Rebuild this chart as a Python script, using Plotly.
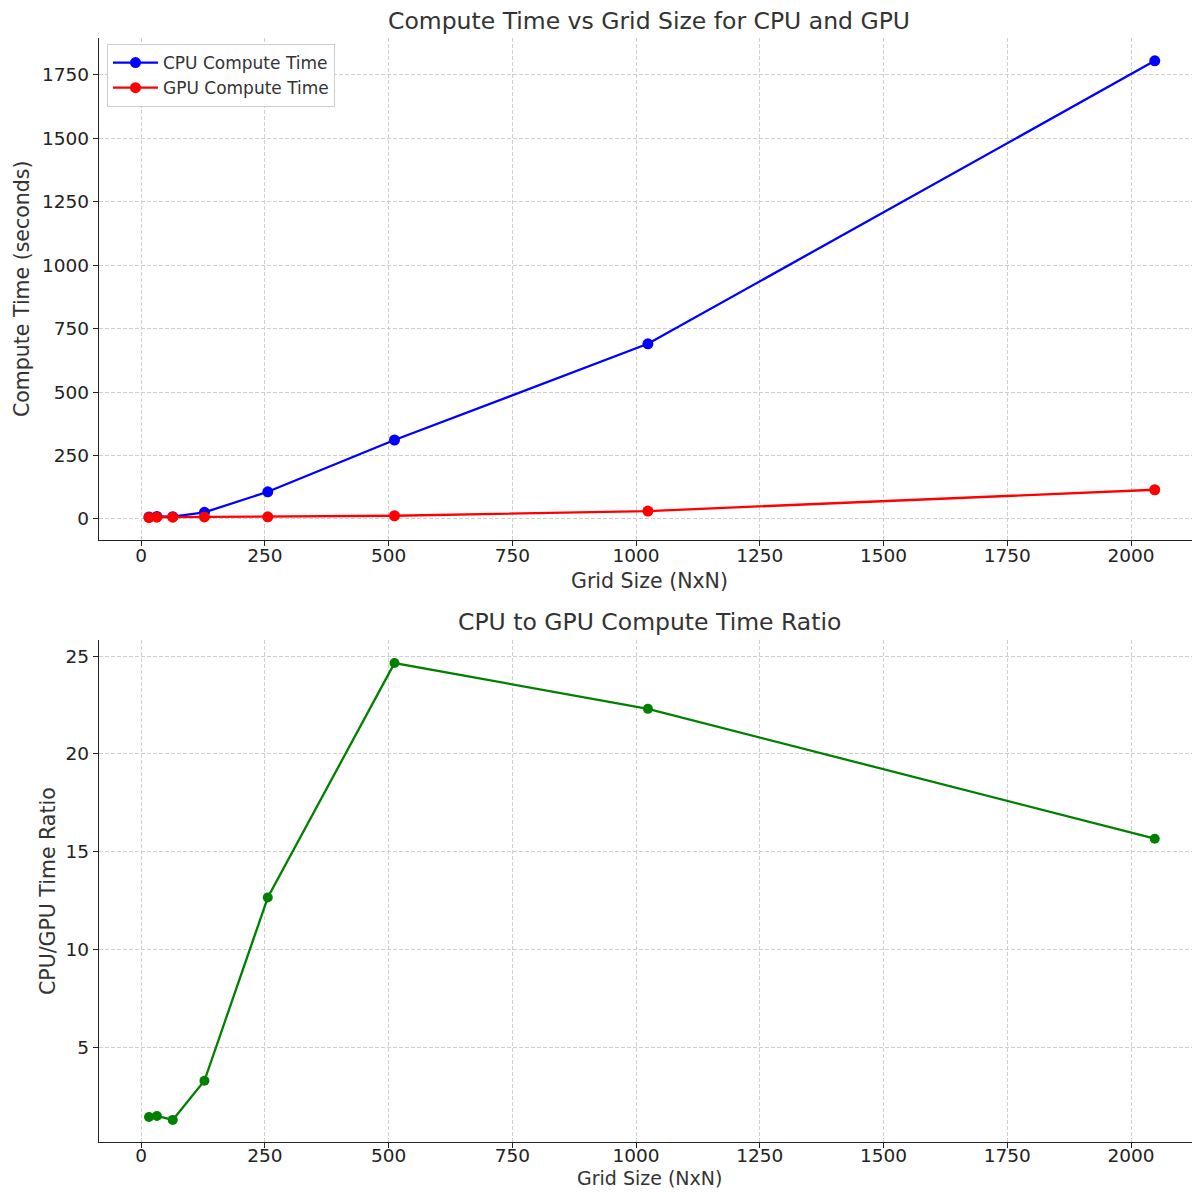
import plotly.graph_objects as go

grid_sizes = [16, 32, 64, 128, 256, 512, 1024, 2048]
cpu_time = [8, 10, 9, 26, 107, 311, 690, 1805]
gpu_time = [5.6, 6.8, 7.0, 7.9, 8.5, 12.6, 31, 115]
ratio = [1.43, 1.48, 1.28, 3.28, 12.65, 24.64, 22.3, 15.66]

FONT = "DejaVu Sans"
TXT = "#333333"

# page body has an 8px margin; figure coordinates = screen - 8
W, H = 1184, 1180
L, T, B = 91, 30, 46
PW = W - L          # plot width
PH = H - T - B      # plot height


def px(sx):
    return (sx - 99) / PW


def py(sy):
    return (1142 - sy) / PH


fig = go.Figure()
fig.add_trace(go.Scatter(x=grid_sizes, y=cpu_time, mode="lines+markers", name="CPU Compute Time",
                         line=dict(color="blue", width=2.3), marker=dict(color="blue", size=11),
                         xaxis="x", yaxis="y"))
fig.add_trace(go.Scatter(x=grid_sizes, y=gpu_time, mode="lines+markers", name="GPU Compute Time",
                         line=dict(color="red", width=2.3), marker=dict(color="red", size=11),
                         xaxis="x", yaxis="y"))
fig.add_trace(go.Scatter(x=grid_sizes, y=ratio, mode="lines+markers", name="Ratio", showlegend=False,
                         line=dict(color="green", width=2.3), marker=dict(color="green", size=10),
                         xaxis="x2", yaxis="y2"))

axis_common = dict(showgrid=True, gridcolor="#cfcfcf", griddash="4px,2px", gridwidth=1,
                   showline=True, linecolor="#222222", linewidth=1.4, mirror=False,
                   ticks="outside", ticklen=5, tickwidth=1.3, tickcolor="#222222",
                   zeroline=False, tickfont=dict(family=FONT, size=18.5, color="#222222"))

xr = [-85, (1192 - 141) / 0.495]
top_h = (1142 - 540) / PH
bot_h = (1142 - 640) / PH

fig.update_layout(
    width=W, height=H,
    margin=dict(l=L, r=0, t=T, b=B),
    paper_bgcolor="white", plot_bgcolor="white",
    font=dict(family=FONT, color=TXT),
    xaxis=dict(domain=[0, 1], anchor="y", range=xr, ticklabelstandoff=-6,
               tickvals=[0, 250, 500, 750, 1000, 1250, 1500, 1750, 2000], **axis_common),
    yaxis=dict(domain=[top_h, 1], anchor="x", range=[-83, 1895],
               tickvals=[0, 250, 500, 750, 1000, 1250, 1500, 1750], **axis_common),
    xaxis2=dict(domain=[0, 1], anchor="y2", range=xr, ticklabelstandoff=-8,
                tickvals=[0, 250, 500, 750, 1000, 1250, 1500, 1750, 2000], **axis_common),
    yaxis2=dict(domain=[0, bot_h], anchor="x2", range=[0.15, 25.82],
                tickvals=[5, 10, 15, 20, 25], **axis_common),
    legend=dict(x=px(107), y=py(44), xanchor="left", yanchor="top",
                bgcolor="rgba(255,255,255,0.9)", bordercolor="#cccccc", borderwidth=1,
                font=dict(family=FONT, size=17, color=TXT), tracegroupgap=0,
                itemwidth=45),
    showlegend=True,
)

ann = [
    dict(text="Compute Time vs Grid Size for CPU and GPU", x=649, y=21, size=23.5),
    dict(text="CPU to GPU Compute Time Ratio", x=649, y=622, size=23.5),
    dict(text="Grid Size (NxN)", x=649, y=581, size=20.5),
    dict(text="Grid Size (NxN)", x=649, y=1178, size=19),
]
for a in ann:
    fig.add_annotation(text=a["text"], xref="paper", yref="paper",
                       x=px(a["x"]), y=py(a["y"]),
                       xanchor="center", yanchor="middle", showarrow=False,
                       font=dict(family=FONT, size=a["size"], color=TXT))
fig.add_annotation(text="Compute Time (seconds)", xref="paper", yref="paper",
                   x=px(22), y=py(289), textangle=-90,
                   xanchor="center", yanchor="middle", showarrow=False,
                   font=dict(family=FONT, size=20.5, color=TXT))
fig.add_annotation(text="CPU/GPU Time Ratio", xref="paper", yref="paper",
                   x=px(48), y=py(891), textangle=-90,
                   xanchor="center", yanchor="middle", showarrow=False,
                   font=dict(family=FONT, size=20.5, color=TXT))

fig.write_html("out.html")
